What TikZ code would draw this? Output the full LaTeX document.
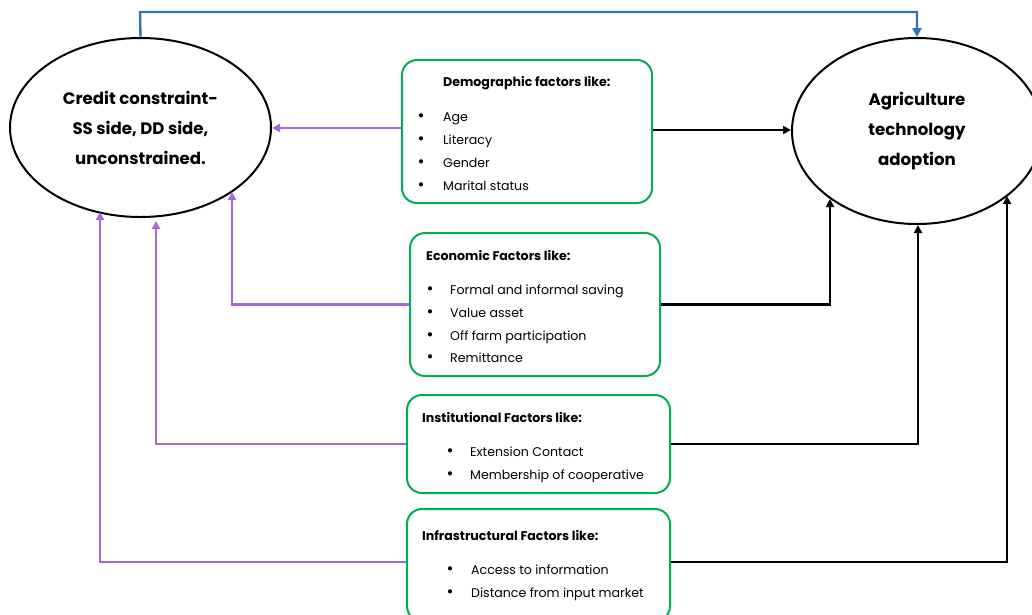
\documentclass[tikz,border=0pt]{standalone}
\usepackage{fontspec}
\setmainfont{Poppins}
\usetikzlibrary{shapes.geometric,arrows.meta}
\definecolor{purp}{RGB}{166,102,222}
\definecolor{grn}{RGB}{0,176,80}
\definecolor{blu}{RGB}{46,117,182}
\tikzset{
  oval/.style={ellipse,draw=black,line width=2pt,inner sep=0pt,align=center,
    font=\fontsize{16.6}{30}\selectfont\bfseries},
  fbox/.style={draw=grn,line width=2pt,rounded corners=15pt,inner sep=0pt},
  ttl/.style={anchor=base west,inner sep=0pt,font=\fontsize{12.6}{14}\selectfont\bfseries},
  itm/.style={anchor=base west,inner sep=0pt,font=\fontsize{12.6}{14}\selectfont},
  bul/.style={anchor=base,inner sep=0pt,font=\fontsize{17}{14}\selectfont},
  parr/.style={draw=purp,line width=2.4pt,-{Triangle[length=8pt,width=8pt]}},
  barr/.style={draw=black,line width=2.4pt,-{Triangle[length=8pt,width=8pt]}},
  blarr/.style={draw=blu,line width=2.4pt,-{Triangle[length=9pt,width=9pt]}},
}
\begin{document}
\begin{tikzpicture}[x=1pt,y=-1pt]
\useasboundingbox (0,0) rectangle (1032,614);
% ellipses
\node[oval,minimum width=261,minimum height=179] (L) at (140.5,127.5)
  {Credit constraint-\\SS side, DD side,\\unconstrained.};
\node[oval,minimum width=250,minimum height=186] (R) at (917,131)
  {Agriculture\\technology\\adoption};
% boxes
\node[fbox,minimum width=250,minimum height=143] (D) at (527,131.5) {};
\node[fbox,minimum width=250,minimum height=143] (E) at (535,304.5) {};
\node[fbox,minimum width=263,minimum height=98] (I) at (538.5,444) {};
\node[fbox,minimum width=263,minimum height=112] (F) at (538.5,565) {};
% demographic text
\node[ttl] (dt) at (443,86) {Demographic factors like:};
\foreach \t/\y [count=\i] in {Age/121,Literacy/144,Gender/167,Marital status/190}{
  \node[bul] (db\i) at (421,\y) {•};
  \node[itm] (di\i) at (443,\y) {\t};
}
% economic text
\node[ttl] (et) at (426,260) {Economic Factors like:};
\foreach \t/\y [count=\i] in {Formal and informal saving/294,Value asset/317,Off farm participation/340,Remittance/362}{
  \node[bul] (eb\i) at (430,\y) {•};
  \node[itm] (ei\i) at (450,\y) {\t};
}
% institutional text
\node[ttl] (it) at (422,422) {Institutional Factors like:};
\foreach \t/\y [count=\i] in {Extension Contact/456,Membership of cooperative/479}{
  \node[bul] (ib\i) at (450,\y) {•};
  \node[itm] (ii\i) at (470,\y) {\t};
}
% infrastructural text
\node[ttl] (ft) at (422,540) {Infrastructural Factors like:};
\foreach \t/\y [count=\i] in {Access to information/574,Distance from input market/597}{
  \node[bul] (fb\i) at (450,\y) {•};
  \node[itm] (fi\i) at (471,\y) {\t};
}
% arrow end points on the ellipses
\coordinate (pE) at (232,192);
\coordinate (pI) at (156,221);
\coordinate (pF) at (100,212);
\coordinate (bE) at (830,199);
\coordinate (bI) at (918,225);
\coordinate (bF) at (1007,196);
\coordinate (bl1) at (140,12);
% blue connector
\draw[blarr] (L.north) -- (bl1) -| (R.north);
% purple connectors
\draw[parr] (D.west |- 0,128) -- (L.east |- 0,128);
\draw[parr] (E.west) -| (pE);
\draw[parr] (I.west) -| (pI);
\draw[parr] (F.west |- 0,562) -| (pF);
% black connectors
\draw[barr] (D.east |- 0,130) -- (R.west |- 0,130);
\draw[barr] (E.east) -| (bE);
\draw[barr] (I.east) -| (bI);
\draw[barr] (F.east |- 0,562) -| (bF);
\end{tikzpicture}
\end{document}
